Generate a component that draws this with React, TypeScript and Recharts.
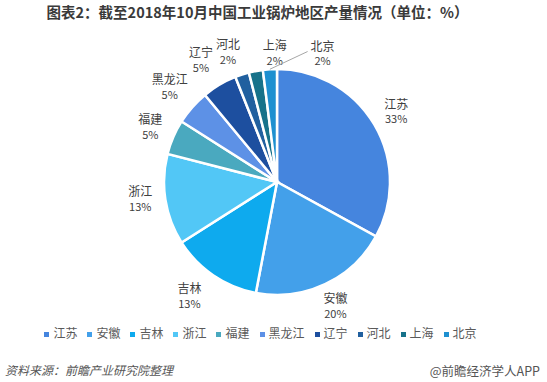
import React from 'react';
import { PieChart, Pie, Cell, Legend } from 'recharts';

const regions = ['江苏', '安徽', '吉林', '浙江', '福建', '黑龙江', '辽宁', '河北', '上海', '北京'];
const shares = [33, 20, 13, 13, 5, 5, 5, 2, 2, 2];
const sliceColors = ['#4585de', '#43a0ea', '#0eaaee', '#52c7f6', '#4aa9bf', '#5d91e6', '#1d4f9f', '#21609f', '#17728a', '#1e90d0'];

const data = regions.map((name, i) => ({ name, value: shares[i] }));

// label nudges where the labels would crowd at the top
const nudges: Record<string, [number, number]> = {
  吉林: [-10, 0],
  浙江: [-2, -4],
  辽宁: [-6, -3],
  河北: [-7, 0],
  上海: [23, 4],
  北京: [54, 5],
};

const FONT = '"Noto Sans CJK SC", "Noto Sans", sans-serif';
const RAD = Math.PI / 180;

const renderLabel = (props: any) => {
  const { cx, cy, midAngle, outerRadius, name, value } = props;
  const cos = Math.cos(-midAngle * RAD);
  const sin = Math.sin(-midAngle * RAD);
  const halfW = (name.length * 12) / 2;
  const r = outerRadius + 10 + halfW * Math.abs(cos) + 10 * Math.abs(sin);
  const [dx, dy] = nudges[name] || [0, 0];
  const x = cx + r * cos + dx;
  const y = cy + r * sin + dy;
  const sx = cx + outerRadius * cos;
  const sy = cy + outerRadius * sin;
  return (
    <g>
      {name === '北京' && (
        <line x1={sx} y1={sy} x2={x - 15} y2={y - 2} stroke="#a6a6a6" strokeWidth={1} />
      )}
      <text x={x} y={y - 3} textAnchor="middle" fill="#404040" fontSize={12} fontFamily={FONT}>
        <tspan x={x}>{name}</tspan>
        <tspan x={x} dy={14.5} fontSize={11}>{value}%</tspan>
      </text>
    </g>
  );
};

const App: React.FC = () => {
  return (
    <div style={{ position: 'absolute', left: 0, top: 0, width: 547, height: 382, background: '#fff', fontFamily: FONT }}>
      <div style={{ position: 'absolute', left: 0, top: 2, width: 515, textAlign: 'center', fontSize: 14.5, fontWeight: 'bold', color: '#3a3a3a', lineHeight: '20px' }}>
        图表2：截至2018年10月中国工业锅炉地区产量情况（单位：%）
      </div>
      <PieChart width={547} height={382} style={{ position: 'absolute', left: 0, top: 0 }}>
        <Pie
          data={data}
          dataKey="value"
          nameKey="name"
          cx={272}
          cy={177}
          outerRadius={113}
          startAngle={90}
          endAngle={-270}
          stroke="#fff"
          strokeWidth={2.5}
          label={renderLabel}
          labelLine={false}
          isAnimationActive={false}
        >
          {data.map((d, i) => (
            <Cell key={d.name} fill={sliceColors[i]} />
          ))}
        </Pie>
        <Legend
          iconType="square"
          iconSize={5}
          itemSorter={(item: any) => regions.indexOf(item.value)}
          wrapperStyle={{ top: 324, left: -8, width: 547, fontSize: 12, fontFamily: FONT }}
          formatter={(v: string) => <span style={{ color: '#595959' }}>{v}</span>}
        />
      </PieChart>
      <div style={{ position: 'absolute', left: 5, top: 361, fontSize: 12, fontStyle: 'italic', color: '#555' }}>
        资料来源：前瞻产业研究院整理
      </div>
      <div style={{ position: 'absolute', right: 7, top: 361, fontSize: 12.5, color: '#555' }}>
        @前瞻经济学人APP
      </div>
    </div>
  );
};

export default App;
